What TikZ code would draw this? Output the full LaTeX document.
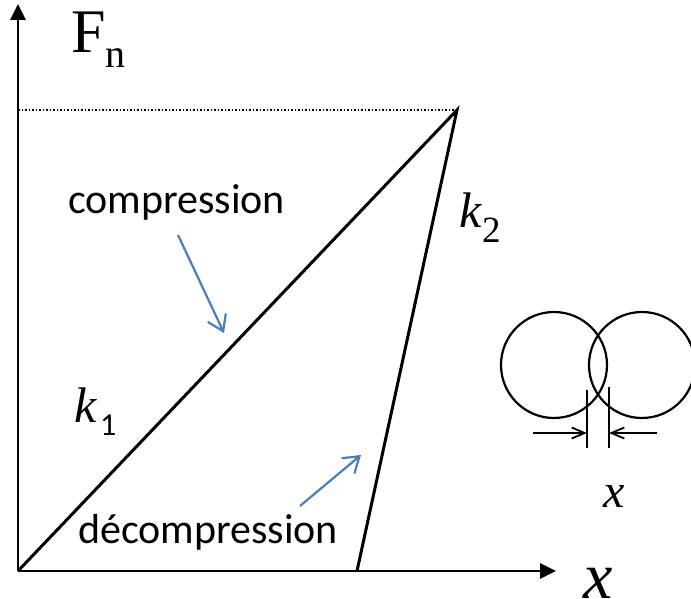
\documentclass[tikz,border=0pt]{standalone}
\usepackage{fontspec}
\setmainfont{Liberation Serif}
\newfontfamily\calib{Carlito}
\usetikzlibrary{arrows.meta}
\definecolor{arrblue}{RGB}{74,126,187}
\tikzset{
  axis/.style={line width=2.8pt,-{Triangle[length=16pt,width=15pt]}},
  curve/.style={line width=3pt,line join=miter},
  bluearr/.style={arrblue,line width=2.2pt,-{Straight Barb[length=15pt,width=20pt,line width=2.2pt]}},
  dimarr/.style={line width=2.2pt,-{Straight Barb[length=13pt,width=11pt,line width=1.8pt]}},
  ring/.style={line width=2.2pt},
  lbl/.style={inner sep=0pt,anchor=base west}
}
\begin{document}
\begin{tikzpicture}[x=1pt,y=-1pt]
\useasboundingbox (0,0) rectangle (691,599);
% key points
\coordinate (O) at (18,571);
\coordinate (P) at (457,110);
\coordinate (Q) at (357,571);
\coordinate (Ytop) at (18,4);
\coordinate (Xend) at (556,571);
\coordinate (D) at (18,110);
% axes
\draw[axis] (O) -- (Ytop);
\draw[axis] (O) -- (Xend);
% dotted level
\draw[dotted,line width=1.5pt] (D) -- (P);
% loading/unloading
\draw[curve] (O) -- (P) -- (Q);
% labels
\node[lbl] (Fn) at (71,53) {\fontsize{62}{70}\selectfont F\raisebox{-15pt}{\fontsize{40}{44}\selectfont n}};
\node[lbl] (comp) at (68,213) {\calib\fontsize{42}{50}\selectfont compression};
\node[lbl] (decomp) at (78,543) {\calib\fontsize{42}{50}\selectfont décompression};
\node[lbl] (k1) at (74,422) {\fontsize{50}{56}\selectfont\textit{k}\hspace{3pt}\raisebox{-13pt}{\calib\fontsize{32}{36}\selectfont 1}};
\node[lbl] (k2) at (459,227) {\fontsize{50}{56}\selectfont\textit{k}\raisebox{-15pt}{\fontsize{37}{40}\selectfont 2}};
\node[lbl] (xax) at (583,598) {\fontsize{66}{70}\selectfont\textit{x}};
\node[lbl] (xsm) at (603,507) {\fontsize{48}{52}\selectfont\textit{x}};
% blue arrows
\coordinate (ca) at (178,235);
\coordinate (cb) at (224,333);
\coordinate (da) at (300,506);
\coordinate (db) at (361,455);
\draw[bluearr] (ca) -- (cb);
\draw[bluearr] (da) -- (db);
% circles
\node[ring,draw,circle,minimum width=106pt,minimum height=106pt,inner sep=0pt] (c1) at (554,365) {};
\node[ring,draw,circle,minimum width=106pt,minimum height=106pt,inner sep=0pt] (c2) at (642,365) {};
% dimension marks
\coordinate (t1a) at (587,390);
\coordinate (t1b) at (587,448);
\coordinate (t2a) at (609,387);
\coordinate (t2b) at (609,448);
\draw[line width=2.2pt] (t1a) -- (t1b);
\draw[line width=2.2pt] (t2a) -- (t2b);
\coordinate (la) at (533,433);
\coordinate (lb) at (587,433);
\coordinate (ra) at (657,433);
\coordinate (rb) at (609,433);
\draw[dimarr] (la) -- (lb);
\draw[dimarr] (ra) -- (rb);
\end{tikzpicture}
\end{document}
